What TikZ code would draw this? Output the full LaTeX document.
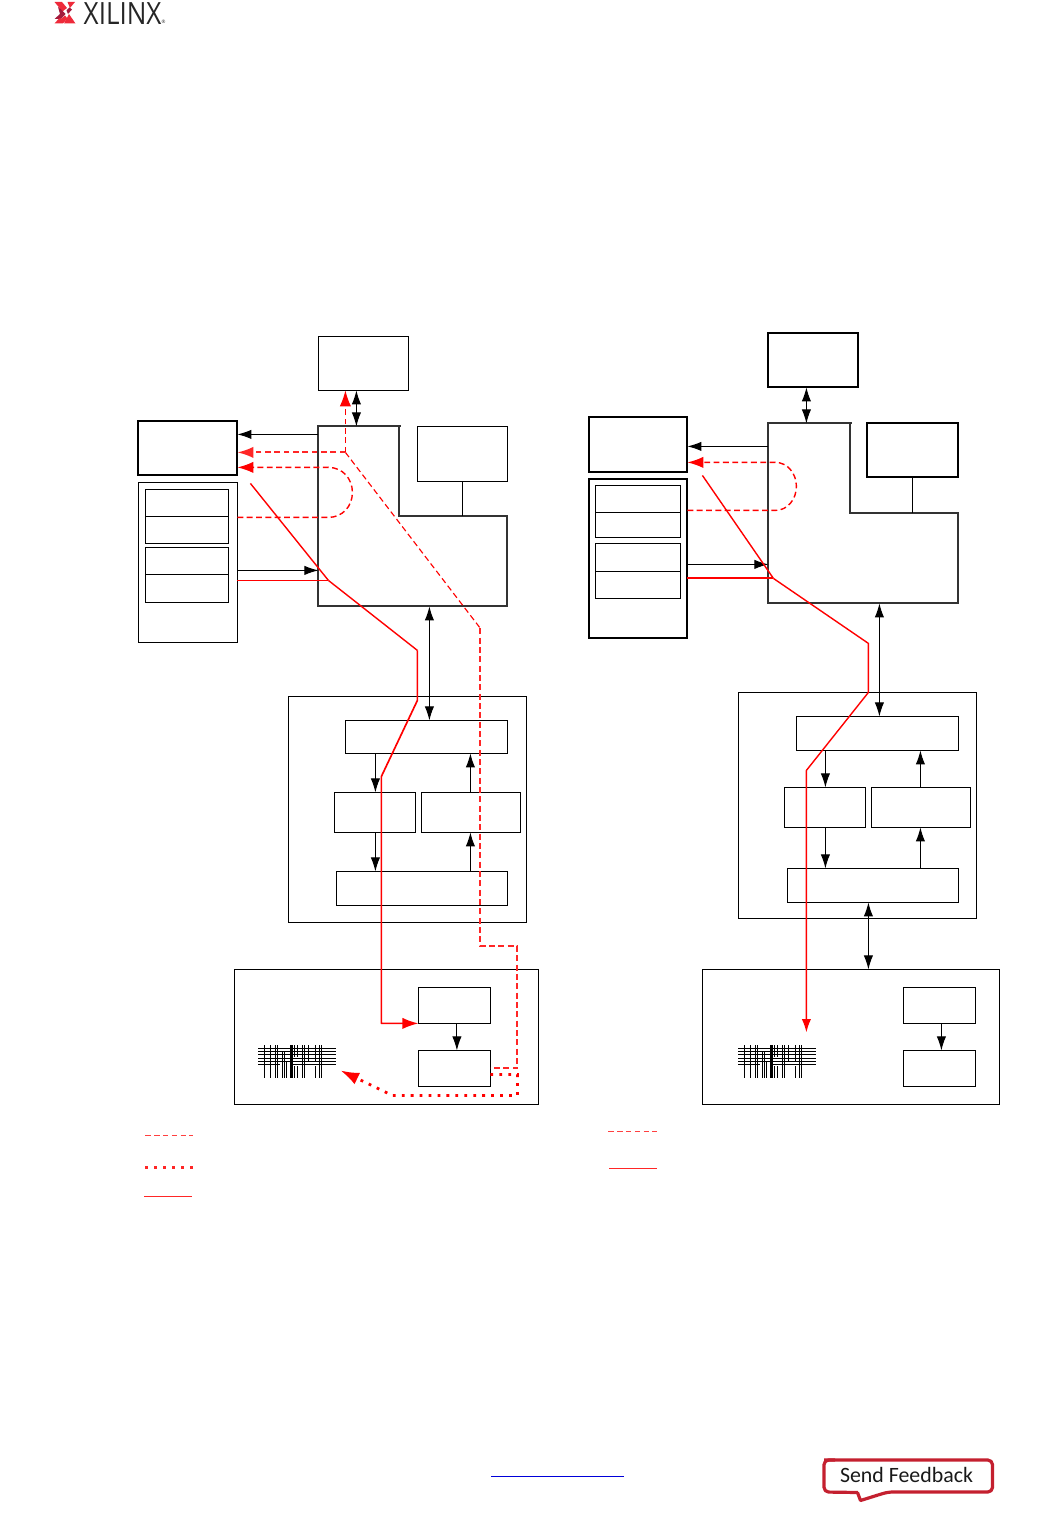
\documentclass[tikz,border=0pt]{standalone}
\usepackage{fontspec}
\setmainfont{Carlito}
\newfontfamily\logofont{Open Sans}
\usetikzlibrary{arrows.meta}
\definecolor{fbred}{HTML}{C4202F}
\definecolor{lred}{HTML}{FF0000}
\definecolor{logobright}{HTML}{EE2A3A}
\definecolor{logodark}{HTML}{A31A3C}
\tikzset{
  bx/.style={draw=black,line width=0.75pt,inner sep=0pt,outer sep=0pt,fill=none},
  bxthick/.style={bx,line width=1.45pt},
  bxmid/.style={bx,line width=1.45pt,draw=black!80},
  hubline/.style={draw=black!80,line width=1.45pt,line join=miter},
  conn/.style={draw=black,line width=0.75pt},
  toB/.style={conn,-{Latex[length=10.5pt,width=7pt]}},
  dblB/.style={conn,{Latex[length=10.5pt,width=7pt]}-{Latex[length=10.5pt,width=7pt]}},
  rsolid/.style={draw=lred,line width=1.05pt,line join=round},
  rdash/.style={draw=lred,line width=1.05pt,dash pattern=on 4.4pt off 2.6pt},
  rdashthin/.style={rdash,line width=0.85pt},
  rdashheavy/.style={rdash,line width=1.45pt,draw=lred!85},
  rdot/.style={draw=lred,line width=2.1pt,dash pattern=on 2.1pt off 4.6pt},
  rtip/.style={-{Latex[length=12pt,width=8.5pt]}},
  bar/.style={draw=black,line width=0.85pt},
  barthick/.style={draw=black,line width=2.2pt},
}
\newcommand{\bxn}[6][bx]{\node[#1,minimum width={(#5-#3)*0.75pt},minimum height={(#6-#4)*0.75pt}] (#2) at ({(#3+#5)/2},{(#4+#6)/2}) {};}
\newcommand{\barcode}[1]{%
 \begin{scope}[shift={(#1,0)}]
  \foreach \yy in {1048.3,1051.5,1054.3,1057.7,1061}{\draw[bar] (738,\yy) -- (816,\yy);}
  \draw[bar] (738,1064.3) -- (760,1064.3);
  \draw[bar] (772,1064.3) -- (816,1064.3);
  \foreach \xx in {743.7,750.3,754.7,756.7,781.7,783.7,801.3}{\draw[bar] (\xx,1045) -- (\xx,1078);}
  \foreach \xx in {761.7,763.7}{\draw[bar] (\xx,1052) -- (\xx,1078);}
  \draw[bar] (765.7,1061) -- (765.7,1078);
  \draw[barthick] (770.7,1045) -- (770.7,1078);
  \foreach \xx in {774.3,777.3}{\draw[bar] (\xx,1045) -- (\xx,1057); \draw[bar] (\xx,1066) -- (\xx,1078);}
  \draw[bar] (788.3,1045) -- (788.3,1061);
  \draw[bar] (795.3,1045) -- (795.3,1061);
  \draw[bar] (795.3,1066) -- (795.3,1078);
  \draw[bar] (799.3,1045) -- (799.3,1078);
 \end{scope}}
\begin{document}
\begin{tikzpicture}[x=0.75pt,y=-0.75pt]
\useasboundingbox (0,0) rectangle (1062,1516);
% logo
\fill[logobright] (54.5,2) -- (62,2) -- (67,8) -- (62.5,11.5) -- (60,8.5) -- cycle;
\fill[logodark] (58,7) -- (60.5,9) -- (65.5,14) -- (61,19) -- (54.5,19) -- (60,14) -- cycle;
\fill[logobright] (54.5,23.5) -- (59,18.5) -- (62,18.5) -- (65,15.5) -- (67.5,18.5) -- (63,23.5) -- cycle;
\fill[logobright] (67.5,2) -- (75,2) -- (70,8) -- cycle;
\fill[logobright] (69,14) -- (75.5,23.5) -- (64,23.5) -- cycle;
\fill[logodark] (66.5,10.5) -- (69.5,7.5) -- (72,9.5) -- (68,14) -- cycle;
\node[font=\logofont\fontsize{23pt}{23pt}\selectfont,text=black!85,inner sep=0pt,anchor=west,xscale=0.85] (logotext) at (83.5,13.5) {XILINX};
\node[font=\logofont\fontsize{3.5pt}{4pt}\selectfont,text=black!85,inner sep=0pt] (logomark) at (163.5,21.5) {®};
\begin{scope}[shift={(0.4,0.4)}]
% ============ LEFT ============
\bxn{ldram}{318}{336}{408}{390}
\bxn[bxmid]{lhub}{318}{426}{507}{606}
\bxn{lperi}{417}{426}{507}{481}
\bxn[bxthick]{lcap}{138}{421}{237}{475}
\bxn{lcfg}{138}{482}{237}{642}
\bxn{lcfgaa}{145}{489}{228}{516}
\bxn{lcfgab}{145}{516}{228}{543}
\bxn{lcfgba}{145}{547}{228}{574}
\bxn{lcfgbb}{145}{574}{228}{602}
\bxn{lmem}{288}{696}{526}{922}
\bxn{lma}{345}{720}{507}{753}
\bxn{lmb}{334}{792}{415}{832}
\bxn{lmc}{421}{792}{520}{832}
\bxn{lmd}{336}{871}{507}{905}
\bxn{lfab}{234}{969}{538}{1104}
\bxn{lfa}{418}{987}{490}{1023}
\bxn{lfb}{418}{1050}{490}{1086}
\barcode{-480}
\coordinate (lnotch) at (399,516);
\coordinate (ltop) at (399,426);
% ============ RIGHT ============
\bxn[bxthick]{rdram}{768}{333}{858}{387}
\bxn[bxmid]{rhub}{768}{423}{958}{603}
\bxn[bxthick]{rperi}{867}{423}{958}{477}
\bxn[bxthick]{rcap}{589}{417}{687}{472}
\bxn[bxthick]{rcfg}{589}{479}{687}{638}
\bxn{rcfgaa}{595}{485}{680}{512}
\bxn{rcfgab}{595}{512}{680}{537}
\bxn{rcfgba}{595}{543}{680}{571}
\bxn{rcfgbb}{595}{571}{680}{598}
\bxn{rmem}{738}{692}{976}{918}
\bxn{rma}{796}{716}{958}{750}
\bxn{rmb}{784}{787}{865}{827}
\bxn{rmc}{871}{787}{970}{827}
\bxn{rmd}{787}{868}{958}{902}
\bxn{rfab}{702}{969}{999}{1104}
\bxn{rfa}{903}{987}{975}{1023}
\bxn{rfb}{903}{1050}{975}{1086}
\barcode{0}
% L cut-outs: white out upper right of hub boxes
\fill[white] (400.5,423) rectangle (510,516);
\draw[bx] (lperi.north west) rectangle (lperi.south east);
\draw[hubline] (ltop) -- (lnotch) -- (508,516);
\fill[white] (851.5,420) rectangle (961,513);
\draw[bxthick] (rperi.north west) rectangle (rperi.south east);
\draw[hubline] (850,422.5) -- (850,513) -- (959,513);
% black connectors, left
\draw[conn] (lperi.south) -- (462,516);
\draw[dblB] (ldram.south -| 356,0) -- (lhub.north -| 356,0);
\draw[toB] (lhub.west |- 0,434) -- (lcap.east |- 0,434);
\draw[toB] (lcfg.east |- 0,570) -- (lhub.west |- 0,570);
\draw[dblB] (lhub.south -| 429,0) -- (lma.north -| 429,0);
\draw[toB] (lma.south -| 375,0) -- (lmb.north -| 375,0);
\draw[toB] (lmc.north -| 470,0) -- (lma.south -| 470,0);
\draw[toB] (lmb.south -| 375,0) -- (lmd.north -| 375,0);
\draw[toB] (lmd.north -| 470,0) -- (lmc.south -| 470,0);
\draw[toB] (lfa.south -| 456.5,0) -- (lfb.north -| 456.5,0);
% black connectors, right
\draw[conn] (rperi.south -| 912,0) -- (912,513);
\draw[dblB] (rdram.south -| 806,0) -- (rhub.north -| 806,0);
\draw[toB] (rhub.west |- 0,446) -- (rcap.east |- 0,446);
\draw[toB] (rcfg.east |- 0,564) -- (rhub.west |- 0,564);
\draw[dblB] (rhub.south -| 879,0) -- (rma.north -| 879,0);
\draw[toB] (rma.south -| 825,0) -- (rmb.north -| 825,0);
\draw[toB] (rmc.north -| 920,0) -- (rma.south -| 920,0);
\draw[toB] (rmb.south -| 825,0) -- (rmd.north -| 825,0);
\draw[toB] (rmd.north -| 920,0) -- (rmc.south -| 920,0);
\draw[dblB] (rmd.south -| 868,0) -- (rfab.north -| 868,0);
\draw[toB] (rfa.south -| 941,0) -- (rfb.north -| 941,0);
% red paths, left
\coordinate (ljoin) at (345,452);
\draw[rdashthin,rtip] (ljoin) -- (ldram.south -| 345,0);
\draw[rdashheavy,rtip] (ljoin) -- (lcap.east |- 0,452);
\draw[rdash,rtip] (lcfg.east |- 0,517) -- (328,517) .. controls (342,517) and (352,506) .. (352,492) .. controls (352,478) and (342,467) .. (328,467) -- (lcap.east |- 0,467);
\draw[rdashthin] (ljoin) -- (480,628);
\draw[rdashheavy] (480,628) -- (480,946) -- (517,946) -- (517,1068) -- (lfb.east |- 0,1068);
\draw[rdot,-{Latex[length=14pt,width=9.5pt]}] (lfb.east |- 0,1074) -- (517,1074) -- (517,1095) -- (392,1095) -- (340,1070);
\coordinate (lbend) at (328,580);
\draw[rsolid] (250,483) -- (lbend);
\draw[rsolid,line width=1.3pt] (lcfg.east |- 0,580) -- (lbend);
\draw[rsolid] (lbend) -- (417,650);
\draw[rsolid,rtip,line width=1.25pt] (417,650) -- (417,700) -- (381,776) -- (381,1023) -- (lfa.west |- 0,1023);
% red paths, right
\draw[rdash,rtip] (rcfg.east |- 0,510) -- (775,510) .. controls (787,510) and (796,499) .. (796,486) .. controls (796,473) and (787,462) .. (775,462) -- (rcap.east |- 0,462);
\coordinate (rbend) at (773,578);
\draw[rsolid] (702,475) -- (rbend);
\draw[rsolid,line width=1.45pt] (rcfg.east |- 0,578) -- (rbend);
\draw[rsolid,-{Latex[length=10pt,width=7pt]}] (rbend) -- (868,643) -- (868,692) -- (806,770) -- (806,1032);
% legends
\coordinate (lga) at (145,1135); \coordinate (lgb) at (193,1135);
\coordinate (lgc) at (145,1167); \coordinate (lgd) at (193,1167);
\coordinate (lge) at (144,1196); \coordinate (lgf) at (192,1196);
\coordinate (rga) at (608,1131); \coordinate (rgb) at (657,1131);
\coordinate (rgc) at (609,1168); \coordinate (rgd) at (657,1168);
\draw[draw=lred!75,line width=0.7pt,dash pattern=on 4pt off 2.6pt] (lga) -- (lgb);
\draw[rdot,draw=lred!85] (lgc) -- (lgd);
\draw[draw=lred!85,line width=0.8pt] (lge) -- (lgf);
\draw[draw=lred!75,line width=0.7pt,dash pattern=on 4pt off 2.6pt] (rga) -- (rgb);
\draw[draw=lred!85,line width=0.8pt] (rgc) -- (rgd);
\end{scope}
% footer link
\coordinate (linka) at (491,1476.5); \coordinate (linkb) at (624,1476.5);
\draw[draw=blue!85!black,line width=0.8pt] (linka) -- (linkb);
% send feedback
\draw[fbred,line width=2.4pt,line join=round,rounded corners=3.5pt] (824,1460) -- (992.5,1460) -- (992.5,1492) -- (888,1492) -- (878,1495);
\draw[fbred,line width=2.4pt,line join=round] (878,1495) -- (860.5,1500.5) -- (857.5,1492.5);
\draw[fbred,line width=2.4pt,line join=round,rounded corners=3.5pt] (858,1492.5) -- (824,1492) -- (824,1460) -- (835,1460);
\node[inner sep=0pt,font=\fontsize{16.4pt}{16.4pt}\selectfont,text=black!90] (sendfb) at (906.5,1475) {Send Feedback};
\end{tikzpicture}
\end{document}
